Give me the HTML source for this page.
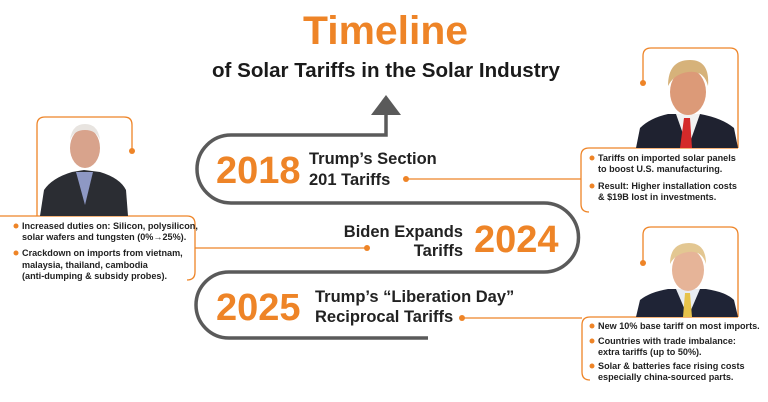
<!DOCTYPE html>
<html><head><meta charset="utf-8"><style>
html,body{margin:0;padding:0;background:#fff}
svg{display:block}
text{font-family:"Liberation Sans",sans-serif}
</style></head><body>
<svg width="768" height="402" viewBox="0 0 768 402" xmlns="http://www.w3.org/2000/svg">
<rect width="768" height="402" fill="#fff"/>
<text x="303" y="44" font-size="40" font-weight="bold" fill="#EE8427" textLength="165" lengthAdjust="spacingAndGlyphs">Timeline</text>
<text x="212" y="77" font-size="20" font-weight="bold" fill="#1a1a1a" textLength="348" lengthAdjust="spacingAndGlyphs">of Solar Tariffs in the Solar Industry</text>

<path d="M386 110 V135 H231 A34 34 0 0 0 231 203 H544 A34.5 34.5 0 0 1 544 272 H229 A33 33 0 0 0 229 338 H428" fill="none" stroke="#5a5a5a" stroke-width="3.5"/>
<polygon points="371,115 401,115 386,95" fill="#5a5a5a"/>

<g stroke="#EE8427" stroke-width="1.3" fill="none">
<path d="M406 179 H581"/>
<path d="M367 248 H195"/>
<path d="M462 318 H582"/>
<path d="M132 151 V125 Q132 117 124 117 H45 Q37 117 37 125 V216"/>
<path d="M0 216 H187 Q195 216 195 224 V272 Q195 280 187 280"/>
<path d="M643 83 V56 Q643 48 651 48 H730 Q738 48 738 56 V148"/>
<path d="M738 148 H589 Q581 148 581 156 V204 Q581 212 589 212"/>
<path d="M643 263 V235 Q643 227 651 227 H730 Q738 227 738 235 V317"/>
<path d="M738 317 H590 Q582 317 582 325 V372 Q582 380 590 380"/>
</g>
<g fill="#EE8427">
<circle cx="406" cy="179" r="3"/><circle cx="367" cy="248" r="3"/><circle cx="462" cy="318" r="3"/>
<circle cx="132" cy="151" r="3"/><circle cx="643" cy="83" r="3"/><circle cx="643" cy="263" r="3"/>
</g>

<g font-size="38" font-weight="bold" fill="#EE8427">
<text x="216" y="183">2018</text>
<text x="474" y="252">2024</text>
<text x="216" y="320">2025</text>
</g>
<g font-size="16.5" font-weight="bold" fill="#222">
<text x="309" y="164">Trump’s Section</text>
<text x="309" y="185">201 Tariffs</text>
<text x="463" y="237" text-anchor="end">Biden Expands</text>
<text x="463" y="256" text-anchor="end">Tariffs</text>
<text x="315" y="302">Trump’s “Liberation Day”</text>
<text x="315" y="322">Reciprocal Tariffs</text>
</g>

<g>
<path d="M40 216 L44 190 Q52 178 72 172 L84 170 L100 172 Q120 178 126 190 L128 216 Z" fill="#2b2d33"/>
<path d="M76 172 L85 205 L93 172 Z" fill="#8e98c4"/>
<ellipse cx="85" cy="148" rx="15" ry="20" fill="#d8a38c"/>
<path d="M70 140 Q72 124 85 124 Q98 124 100 140 Q96 130 85 130 Q74 130 70 140 Z" fill="#e8e4e0"/>
</g>
<g>
<path d="M636 148 L640 128 Q650 118 668 114 L700 114 Q722 118 734 128 L738 148 Z" fill="#1f2230"/>
<path d="M676 114 L688 148 L700 114 Z" fill="#f2f2f2"/>
<path d="M684 118 L680 148 L692 148 L690 118 Z" fill="#d42a2a"/>
<ellipse cx="688" cy="92" rx="18" ry="23" fill="#dc9a78"/>
<path d="M668 86 Q668 60 690 60 Q710 60 708 86 Q704 70 688 72 Q674 74 668 86 Z" fill="#d6b27a"/>
</g>
<g>
<path d="M636 317 L640 300 Q650 292 668 289 L706 289 Q726 292 734 300 L738 317 Z" fill="#1f2436"/>
<path d="M676 289 L688 317 L700 289 Z" fill="#e8ecf2"/>
<path d="M685 293 L683 317 L692 317 L690 293 Z" fill="#e6c24a"/>
<ellipse cx="688" cy="270" rx="16" ry="21" fill="#e6b498"/>
<path d="M670 264 Q670 243 689 243 Q706 243 706 264 Q702 250 688 252 Q675 254 670 264 Z" fill="#e3c792"/>
</g>

<g font-size="9.1" font-weight="bold" fill="#222">
<text x="22" y="229">Increased duties on: Silicon, polysilicon,</text>
<text x="22" y="240">solar wafers and tungsten (0%→25%).</text>
<text x="22" y="256">Crackdown on imports from vietnam,</text>
<text x="22" y="268">malaysia, thailand, cambodia</text>
<text x="22" y="279">(anti-dumping &amp; subsidy probes).</text>

<text x="598" y="161">Tariffs on imported solar panels</text>
<text x="598" y="172">to boost U.S. manufacturing.</text>
<text x="598" y="189">Result: Higher installation costs</text>
<text x="598" y="200">&amp; $19B lost in investments.</text>

<text x="598" y="329">New 10% base tariff on most imports.</text>
<text x="598" y="344">Countries with trade imbalance:</text>
<text x="598" y="355">extra tariffs (up to 50%).</text>
<text x="598" y="369">Solar &amp; batteries face rising costs</text>
<text x="598" y="380">especially china-sourced parts.</text>
</g>
<g fill="#EE8427">
<circle cx="16" cy="226" r="2.5"/><circle cx="16" cy="253" r="2.5"/>
<circle cx="592" cy="158" r="2.5"/><circle cx="592" cy="186" r="2.5"/>
<circle cx="592" cy="326" r="2.5"/><circle cx="592" cy="341" r="2.5"/><circle cx="592" cy="366" r="2.5"/>
</g>
</svg>
</body></html>
